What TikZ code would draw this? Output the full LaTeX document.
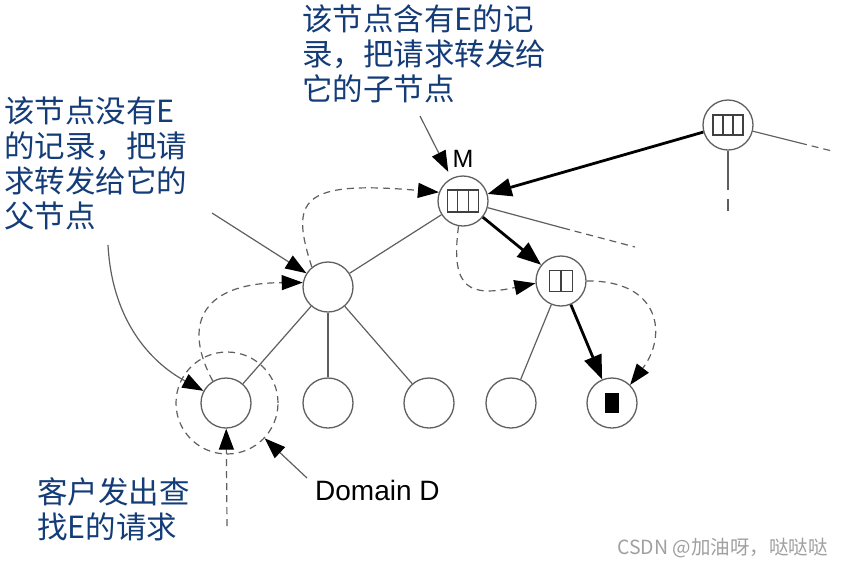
\documentclass[tikz,border=0pt]{standalone}
\usepackage{fontspec}
\setmainfont{Liberation Sans}
\newfontfamily\cjk{Noto Sans CJK SC}
\usetikzlibrary{arrows.meta,calc}
\definecolor{txtblue}{RGB}{20,60,120}
\definecolor{lgray}{RGB}{95,95,95}
\definecolor{wmgray}{RGB}{160,160,160}
\begin{document}
\begin{tikzpicture}[x=1pt,y=-1pt,
  nd/.style={circle,draw=lgray,line width=1.3pt,minimum size=50pt,inner sep=0pt},
  thinl/.style={draw=lgray,line width=1.2pt},
  thickarr/.style={draw=black,line width=2.8pt,-{Triangle[length=24pt,width=18pt,color=black]}},
  ptr/.style={draw=lgray,line width=1.2pt,-{Triangle[length=21pt,width=15pt,color=black]}},
  dsh/.style={draw=lgray,line width=1.2pt,dash pattern=on 7pt off 5pt},
  dptr/.style={dsh,-{Triangle[length=21pt,width=15pt,color=black]}},
  boxst/.style={draw=black!75,line width=1.1pt},
  cjklbl/.style={anchor=north west,inner sep=0pt,align=left,text=txtblue,font=\cjk\fontsize{30.5}{35}\selectfont},
]
\useasboundingbox (0,0) rectangle (843,566);
\fill[white] (0,0) rectangle (843,566);

% tree nodes
\node[nd] (M) at (463,201) {};
\node[nd] (R) at (728,125) {};
\node[nd] (A) at (328,287) {};
\node[nd] (B) at (561,281) {};
\node[nd] (L1) at (226,403) {};
\node[nd] (L2) at (328,403) {};
\node[nd] (L3) at (429,403) {};
\node[nd] (L4) at (511,403) {};
\node[nd] (L5) at (612,403) {};
\node[circle,dsh,minimum size=102pt,inner sep=0pt] (D) at (227,403) {};

% record boxes
\draw[boxst] ([shift={(-15.5,-11)}]M.center) rectangle ([shift={(15.5,11)}]M.center);
\draw[boxst] ([shift={(-5.2,-11)}]M.center) -- ([shift={(-5.2,11)}]M.center);
\draw[boxst] ([shift={(5.2,-11)}]M.center) -- ([shift={(5.2,11)}]M.center);
\draw[boxst] ([shift={(-15,-10)}]R.center) rectangle ([shift={(15,10)}]R.center);
\draw[boxst] ([shift={(-5,-10)}]R.center) -- ([shift={(-5,10)}]R.center);
\draw[boxst] ([shift={(5,-10)}]R.center) -- ([shift={(5,10)}]R.center);
\draw[boxst] ([shift={(-11.5,-10.5)}]B.center) rectangle ([shift={(11.5,10.5)}]B.center);
\draw[boxst] (B.center) ++(0,-10.5) -- ++(0,21);
\fill[black] ([shift={(-7,-10)}]L5.center) rectangle ([shift={(7,10)}]L5.center);

% tree edges
\draw[thinl] (A) -- (M);
\draw[thinl] (A) -- (L1);
\draw[thinl] (A) -- (L2);
\draw[thinl] (A) -- (L3);
\draw[thinl] (B) -- (L4);
\coordinate (m1) at (563,228);
\coordinate (m2) at (635,247);
\draw[thinl] (M) -- (m1);
\draw[dsh] (m1) -- (m2);
\coordinate (r1) at (800,143);
\coordinate (r2) at (832,151);
\draw[thinl] (R) -- (r1);
\draw[dsh] (r1) -- (r2);
\coordinate (r3) at (728,190);
\coordinate (r4) at (728,199);
\coordinate (r5) at (728,211);
\draw[thinl] (R) -- (r3);
\draw[thinl] (r4) -- (r5);

% request path
\draw[thickarr] (R) -- (M);
\draw[thickarr] (M) -- (B);
\draw[thickarr] (B) -- (L5);

% dashed search arrows
\draw[dptr] (L1.121) .. controls (185,330) and (195,283) .. (A.170);
\draw[dptr] (A.129) .. controls (290,200) and (300,180) .. (M.160);
\draw[dptr] (M.260) .. controls (450,290) and (470,297) .. (B.185);
\draw[dptr] (B.0) .. controls (660,280) and (668,335) .. (L5.45);

% labels
\node[font=\fontsize{25}{25}\selectfont,inner sep=0pt] (Mlbl) at (463,159) {M};
\node[cjklbl] (t1) at (302,5) {该节点含有E的记\\录，把请求转发给\\它的子节点};
\node[cjklbl] (t2) at (4,97) {该节点没有E\\的记录，把请\\求转发给它的\\父节点};
\node[cjklbl] (t3) at (37,477) {客户发出查\\找E的请求};
\node[anchor=west,inner sep=0pt,font=\fontsize{28}{28}\selectfont] (dd) at (315,490) {Domain D};
\node[anchor=west,inner sep=0pt,text=wmgray,font=\cjk\fontsize{19.5}{19.5}\selectfont] (wm) at (617,548) {CSDN @加油呀，哒哒哒};

% pointers
\coordinate (p1) at (420,116);
\coordinate (p2) at (212,213);
\coordinate (p3) at (108,245);
\coordinate (p4) at (227,526);
\coordinate (p5) at (307,478);
\draw[ptr,shorten >=7pt] (p1) -- (M);
\draw[ptr] (p2) -- (A);
\draw[ptr] (p3) .. controls (112,320) and (150,362) .. (L1);
\draw[dptr] (p4) -- (L1);
\draw[ptr] (p5) -- (D);
\end{tikzpicture}
\end{document}
